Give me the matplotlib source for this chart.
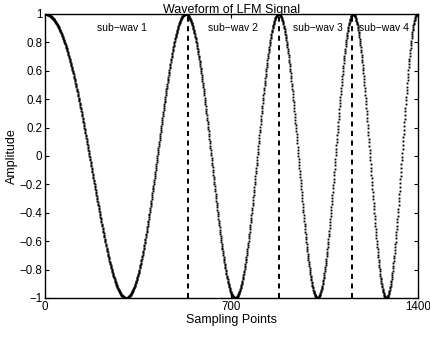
import numpy as np
import matplotlib
matplotlib.use("Agg")
import matplotlib.pyplot as plt

# ---- data ----
# sample positions of the successive extrema (peak, trough, peak, ...)
extrema_pos = [0, 310, 536, 700, 879, 1027, 1154, 1278, 1400]
n_samples = 1401
# sub-wave boundaries (dashed lines)
boundaries = [536, 879, 1154]
# sub-wave labels and their left x-positions, y-position
sub_labels = ["sub\u2212wav 1", "sub\u2212wav 2", "sub\u2212wav 3", "sub\u2212wav 4"]
sub_label_x = [195, 612, 932, 1180]
sub_label_y = 0.9
xticks = [0, 700, 1400]
yticks = [-1, -0.8, -0.6, -0.4, -0.2, 0, 0.2, 0.4, 0.6, 0.8, 1]
ytick_labels = ["\u22121", "\u22120.8", "\u22120.6", "\u22120.4", "\u22120.2", "0",
                "0.2", "0.4", "0.6", "0.8", "1"]

# LFM phase fitted to the extrema (quadratic phase)
ext = np.array(extrema_pos, dtype=float)
ph = np.pi * np.arange(len(ext))
A = np.vstack([ext, ext ** 2]).T
coef, *_ = np.linalg.lstsq(A, ph, rcond=None)
n = np.arange(n_samples)
signal = np.cos(coef[0] * n + coef[1] * n ** 2)

plt.rcParams["font.family"] = ["Liberation Sans", "DejaVu Sans"]

fig = plt.figure(figsize=(4.31, 3.37), dpi=100)
ax = fig.add_axes([45 / 431, 1 - 298 / 337, 373 / 431, 284 / 337])

ax.plot(n, signal, linestyle="none", marker="s", markersize=1.35,
        markeredgewidth=0, color="black", antialiased=False)
for b in boundaries:
    ax.plot([b, b], [-1, 1], color="black", linewidth=1.4,
            linestyle=(0, (2.6, 2.3)))
for lab, lx in zip(sub_labels, sub_label_x):
    ax.text(lx, sub_label_y, lab, fontsize=7.5, ha="left", va="center")

ax.set_xlim(0, 1400)
ax.set_ylim(-1, 1)
ax.set_xticks(xticks)
ax.set_yticks(yticks)
ax.set_yticklabels(ytick_labels)
ax.tick_params(direction="in", length=3, width=0.8, labelsize=8.3,
               top=True, right=True, pad=2)
for s in ax.spines.values():
    s.set_linewidth(1.0)
ax.set_title("Waveform of LFM Signal", fontsize=9, pad=1)
ax.set_xlabel("Sampling Points", fontsize=9, labelpad=1)
ax.set_ylabel("Amplitude", fontsize=9, labelpad=1)

fig.savefig("out.png", dpi=100)
